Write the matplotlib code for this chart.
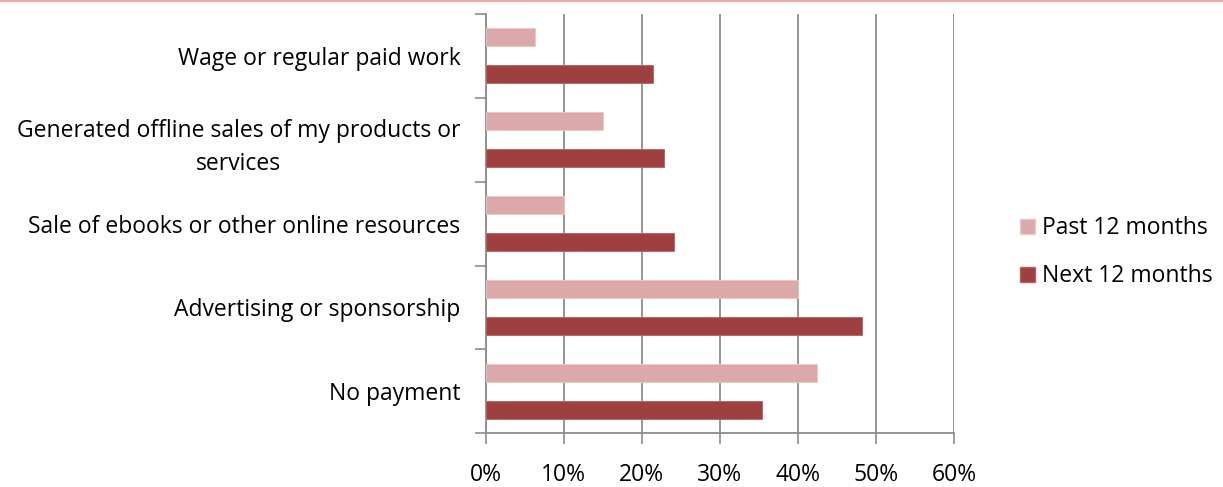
import numpy as np
import matplotlib
matplotlib.use("Agg")
import matplotlib.pyplot as plt
from matplotlib.lines import Line2D
from matplotlib.patches import Patch
from matplotlib.ticker import FuncFormatter

plt.rcParams['font.family'] = ['Open Sans', 'DejaVu Sans']

categories = [
    "Wage or regular paid work",
    "Generated offline sales of my products or\nservices",
    "Sale of ebooks or other online resources",
    "Advertising or sponsorship",
    "No payment",
]
past_12 = [0.063, 0.150, 0.100, 0.400, 0.425]
next_12 = [0.215, 0.228, 0.241, 0.482, 0.354]
x_ticks = [0.0, 0.1, 0.2, 0.3, 0.4, 0.5, 0.6]

past_color = "#DBA9A9"
next_color = "#9E4040"
grid_color = "#8C8C8C"
fs = 16.5

fig = plt.figure(figsize=(12.23, 4.87), dpi=100)
ax = fig.add_axes([0.397, 0.110, 0.383, 0.862])

y = np.arange(len(categories))
h = 0.22
ax.barh(y - h, past_12, height=h, color=past_color, edgecolor="#E8C8C8", linewidth=0.6,
        label="Past 12 months", zorder=3)
ax.barh(y + h, next_12, height=h, color=next_color, edgecolor="#B86060", linewidth=0.6,
        label="Next 12 months", zorder=3)

ax.set_xlim(0, 0.6)
ax.set_ylim(len(categories) - 0.5, -0.5)

ax.set_xticks(x_ticks)
ax.xaxis.set_major_formatter(FuncFormatter(lambda v, _: f"{v * 100:.0f}%"))
ax.tick_params(axis="x", direction="out", length=8, width=1.2, color=grid_color,
               labelsize=fs, pad=13)
ax.grid(axis="x", color=grid_color, linewidth=1.3, zorder=0)

# category boundaries carry the tick marks, labels sit at the centres
ax.set_yticks(np.arange(-0.5, len(categories)), minor=False)
ax.set_yticklabels([])
ax.set_yticks(y, minor=True)
ax.set_yticklabels(categories, minor=True, fontsize=fs, multialignment="center", linespacing=1.55)
ax.tick_params(axis="y", which="major", direction="out", length=8, width=1.2, color=grid_color)
ax.tick_params(axis="y", which="minor", length=0, pad=18)

for side in ("top", "right"):
    ax.spines[side].set_visible(False)
for side in ("left", "bottom"):
    ax.spines[side].set_color(grid_color)
    ax.spines[side].set_linewidth(1.3)

handles = [Patch(facecolor=past_color, edgecolor="#E8C8C8", label="Past 12 months"),
           Patch(facecolor=next_color, edgecolor="#B86060", label="Next 12 months")]
fig.legend(handles=handles, loc="center left", bbox_to_anchor=(0.817, 0.482), frameon=False,
           fontsize=fs, handlelength=0.65, handleheight=0.65, handletextpad=0.3, labelspacing=1.05)

# thin rule along the top edge
fig.add_artist(Line2D([0, 1], [0.998, 0.998], transform=fig.transFigure, color="#F4A6A8", linewidth=1.5))

fig.savefig("out.png", dpi=100)
